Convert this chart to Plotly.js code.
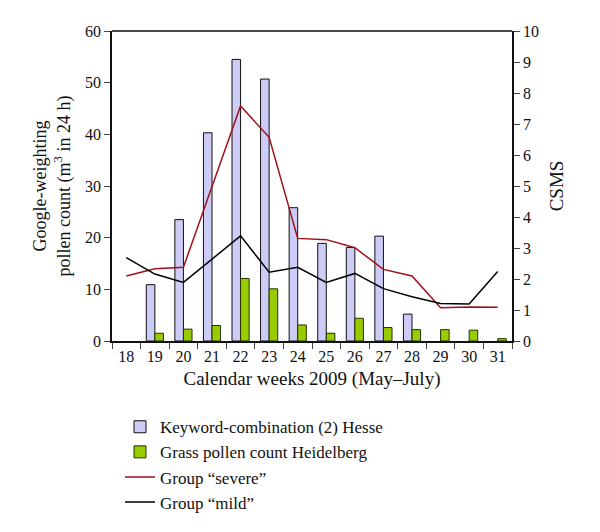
<!DOCTYPE html>
<html>
<head>
<meta charset="utf-8">
<script src="https://cdn.plot.ly/plotly-3.0.1.min.js"></script>
<style>body{margin:0;background:#fff}#chart{width:600px;height:532px}</style>
</head>
<body>
<div id="chart"></div>
<script>
// calendar weeks 2009
var weeks = ['18','19','20','21','22','23','24','25','26','27','28','29','30','31'];

// left axis (bars); null = no bar drawn
var keywordHesse = [null, 10.9, 23.5, 40.3, 54.5, 50.7, 25.8, 18.9, 18.1, 20.3, 5.2, null, null, null];
var grassPollen = [null, 1.5, 2.3, 3.0, 12.1, 10.1, 3.1, 1.5, 4.4, 2.6, 2.2, 2.2, 2.1, 0.45];

// right axis (CSMS)
var severe = [2.1, 2.33, 2.38, 5.0, 7.58, 6.57, 3.31, 3.27, 3.01, 2.31, 2.1, 1.07, 1.1, 1.09];
var mild = [2.69, 2.16, 1.89, 2.65, 3.39, 2.22, 2.38, 1.89, 2.18, 1.69, 1.43, 1.21, 1.19, 2.24];

var serif = 'Liberation Serif, Times New Roman, serif';

var data = [
    {
        x: weeks, y: keywordHesse, type: 'bar',
        name: 'Keyword-combination (2) Hesse',
        marker: {color: '#ccccf7', line: {color: '#111', width: 1}}
    },
    {
        x: weeks, y: grassPollen, type: 'bar',
        name: 'Grass pollen count Heidelberg',
        marker: {color: '#99cc00', line: {color: '#223300', width: 1}}
    },
    {
        x: weeks, y: severe, type: 'scatter', mode: 'lines', yaxis: 'y2',
        name: 'Group \u201csevere\u201d',
        line: {color: '#a01018', width: 1.5}
    },
    {
        x: weeks, y: mild, type: 'scatter', mode: 'lines', yaxis: 'y2',
        name: 'Group \u201cmild\u201d',
        line: {color: '#000', width: 1.5}
    }
];

var layout = {
    width: 600, height: 532,
    margin: {l: 112, r: 88, t: 31, b: 191},
    font: {family: serif, size: 16, color: '#111'},
    paper_bgcolor: '#fff', plot_bgcolor: '#fff',
    barmode: 'group', bargap: 0.4, bargroupgap: 0,
    showlegend: true,
    legend: {x: 0.02, y: -0.22, xanchor: 'left', yanchor: 'top',
             font: {family: serif, size: 17}, tracegroupgap: 0},
    xaxis: {
        type: 'category', range: [-0.5, 13.5],
        tickson: 'boundaries', ticks: 'outside', ticklen: 6,
        showline: true, linecolor: '#111', linewidth: 1.5, mirror: false,
        showgrid: false, zeroline: false,
        title: {text: 'Calendar weeks 2009 (May\u2013July)', standoff: 8}
    },
    yaxis: {
        range: [0, 60], dtick: 10, ticks: 'outside', ticklen: 6,
        showline: true, linecolor: '#111', linewidth: 1.5,
        showgrid: false, zeroline: false,
        title: {text: 'Google-weighting<br>pollen count (m<sup>3</sup> in 24 h)', standoff: 10,
                font: {family: serif, size: 18}}
    },
    yaxis2: {
        overlaying: 'y', side: 'right',
        range: [0, 10], dtick: 1, ticks: 'outside', ticklen: 6,
        showline: true, linecolor: '#111', linewidth: 1.5,
        showgrid: false, zeroline: false,
        title: {text: 'CSMS', standoff: 12}
    },
    shapes: [
        {type: 'line', xref: 'paper', yref: 'paper', x0: 0, x1: 1, y0: 1, y1: 1,
         line: {color: '#111', width: 1.5}}
    ]
};

Plotly.newPlot('chart', data, layout, {displayModeBar: false});
</script>
</body>
</html>
